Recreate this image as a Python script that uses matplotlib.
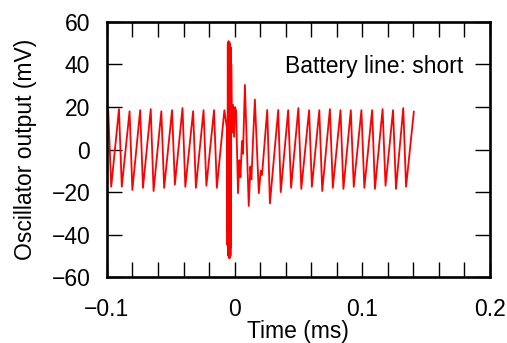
"""Oscillator output with the battery line shorted."""

import matplotlib
matplotlib.use("Agg")
import matplotlib.pyplot as plt
from matplotlib.ticker import MultipleLocator

# sawtooth before the disturbance (vertices)
left_peak_t = [-0.0990, -0.0906, -0.0823, -0.0740, -0.0657, -0.0574,
               -0.0490, -0.0408, -0.0325, -0.0243, -0.0161, -0.0080]
left_peak_v = [18.5, 19.0, 18.0, 18.5, 19.0, 18.0,
               18.5, 19.5, 18.0, 18.5, 18.5, 18.5]
left_trough_t = [-0.0967, -0.0884, -0.0801, -0.0718, -0.0635, -0.0552,
                 -0.0468, -0.0386, -0.0303, -0.0221, -0.0139]
left_trough_v = [-17.5, -17.5, -19.0, -18.0, -19.5, -18.0,
                 -16.5, -17.5, -18.0, -17.0, -18.0]

# the short itself and the ringing after it
burst_t = [-0.0060, -0.0056, -0.0053, -0.0050, -0.0047, -0.0044, -0.0041,
           -0.0038, -0.0035, -0.0032, -0.0030, -0.0028, -0.0026, -0.0020,
           -0.0012, -0.0004, 0.0004, 0.0012, 0.0027, 0.0038, 0.0046, 0.0058,
           0.0066, 0.0081, 0.0111, 0.0124, 0.0132, 0.0145, 0.0159, 0.0190,
           0.0205, 0.0215, 0.0256, 0.0277, 0.0342, 0.0362]
burst_v = [10, -45, 50, -50, 51, -51, 50, -51, 50, -50, 48, -46, 40, 8,
           21, 6, 20, 18, -20.5, -5, -13, 4, -2, 30.4, -26.5, -8, -14, 5,
           23.5, -20.5, -10, -12, 18.6, -25.3, 18.6, -20]

# sawtooth after it settles
right_peak_t = [0.0420, 0.0500, 0.0584, 0.0664, 0.0747, 0.0830,
                0.0911, 0.0994, 0.1078, 0.1160, 0.1242, 0.1322]
right_peak_v = [18.5, 19.5, 18.5, 18.5, 19.0, 18.5,
                18.5, 18.5, 18.5, 19.0, 18.5, 19.5]
right_trough_t = [0.0443, 0.0523, 0.0606, 0.0687, 0.0770, 0.0853,
                  0.0934, 0.1017, 0.1100, 0.1183, 0.1265, 0.1344]
right_trough_v = [-18.0, -18.5, -17.5, -19.5, -18.0, -18.5,
                  -17.5, -18.0, -18.5, -17.0, -18.5, -17.5]

trace_ends_t = [-0.1000, 0.1405]
trace_ends_v = [8.0, 17.8]


def build_trace():
    pts = list(zip(left_peak_t, left_peak_v))
    pts += list(zip(left_trough_t, left_trough_v))
    pts += list(zip(burst_t, burst_v))
    pts += list(zip(right_peak_t, right_peak_v))
    pts += list(zip(right_trough_t, right_trough_v))
    pts += list(zip(trace_ends_t, trace_ends_v))
    pts.sort()
    return [p[0] for p in pts], [p[1] for p in pts]


def main():
    plt.rcParams["font.family"] = ["Liberation Sans", "DejaVu Sans"]
    plt.rcParams["font.size"] = 16.5

    fig = plt.figure(figsize=(5.07, 3.43), dpi=100)
    ax = fig.add_axes([0.211, 0.192, 0.755, 0.744])

    t, v = build_trace()
    ax.plot(t, v, color="#ff0000", lw=1.3)

    ax.set_xlim(-0.1, 0.2)
    ax.set_ylim(-60, 60)
    ax.xaxis.set_minor_locator(MultipleLocator(0.02))
    ax.yaxis.set_major_locator(MultipleLocator(20))
    ax.set_xticks([-0.1, 0, 0.1, 0.2])
    ax.set_xticklabels(["\u22120.1", "0", "0.1", "0.2"])

    ax.tick_params(which="both", direction="in", top=True, right=True,
                   length=10.8, width=1.0)
    ax.tick_params(axis="x", pad=15)
    ax.tick_params(axis="y", pad=12)
    for s in ax.spines.values():
        s.set_linewidth(1.9)

    ax.set_xlabel("Time (ms)")
    ax.set_ylabel("Oscillator output (mV)")
    ax.xaxis.set_label_coords(0.499, -0.168)
    ax.yaxis.set_label_coords(-0.183, 0.5)

    ax.text(0.932, 0.80, "Battery line: short", transform=ax.transAxes,
            ha="right", va="baseline")

    fig.savefig("out.png", dpi=100)
    plt.close(fig)


if __name__ == "__main__":
    main()
